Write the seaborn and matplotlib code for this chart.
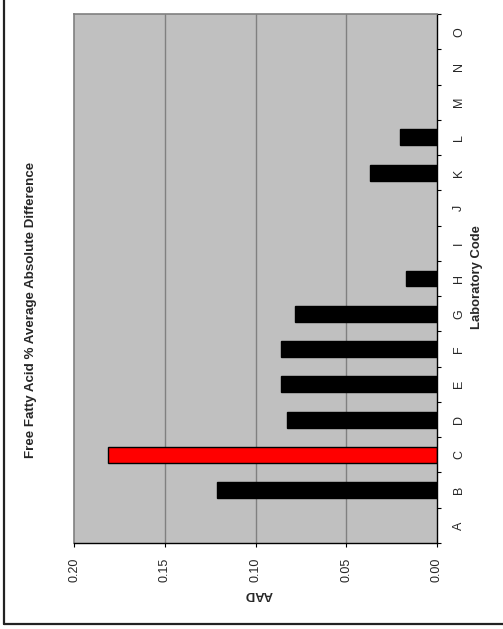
import numpy as np
import pandas as pd
import matplotlib
matplotlib.use("Agg")
import matplotlib.pyplot as plt
from matplotlib.lines import Line2D
import seaborn as sns

categories = ["A", "B", "C", "D", "E", "F", "G", "H", "I", "J", "K", "L", "M", "N", "O"]
aad = [np.nan, 0.121, 0.181, 0.0826, 0.0862, 0.0859, 0.0782, 0.0171,
       np.nan, np.nan, 0.0367, 0.0202, np.nan, np.nan, np.nan]
highlight = "C"
value_ticks = [0.00, 0.05, 0.10, 0.15, 0.20]
title = "Free Fatty Acid % Average Absolute Difference"
cat_label = "Laboratory Code"
val_label = "AAD"

sns.set_theme(style="white")
plt.rcParams["font.family"] = ["Liberation Sans", "DejaVu Sans"]

W, H = 503, 629
fig = plt.figure(figsize=(W / 100, H / 100), dpi=100)
ax = fig.add_axes([74 / W, 1 - 543 / H, (437 - 74) / W, (543 - 14) / H])
ax.set_facecolor("#C0C0C0")

df = pd.DataFrame({"code": categories, "aad": aad})
palette = {c: ("#FF0000" if c == highlight else "#000000") for c in categories}
sns.barplot(data=df, x="aad", y="code", hue="code", order=categories,
            palette=palette, legend=False, orient="h", width=0.45,
            edgecolor="black", linewidth=1.0, saturation=1, ax=ax)

ax.set_ylim(-0.5, len(categories) - 0.5)
ax.set_xlim(0.20, 0.0)

# gridlines
for v in value_ticks[1:-1]:
    ax.axvline(v, color="#808080", lw=1.0, zorder=0)

ax.set_xticks(value_ticks)
ax.set_xticklabels([f"{v:.2f}" for v in value_ticks], rotation=90, fontsize=9)
ax.tick_params(axis="x", direction="out", length=3, width=0.8, color="black",
               bottom=True, pad=7.5)

ax.yaxis.tick_right()
ax.set_yticks(range(len(categories)))
ax.set_yticklabels(categories, rotation=90, va="center", fontsize=9)
ax.set_yticks(np.arange(-0.5, len(categories), 1.0), minor=True)
ax.tick_params(axis="y", which="major", length=0, pad=11.5)
ax.tick_params(axis="y", which="minor", direction="out", length=3, width=0.8,
               color="black", right=True, left=False)
ax.set_xlabel("")
ax.set_ylabel("")

for side in ["left", "top"]:
    ax.spines[side].set_color("#808080")
    ax.spines[side].set_linewidth(1.2)
for side in ["right", "bottom"]:
    ax.spines[side].set_color("black")
    ax.spines[side].set_linewidth(1.0)

fig.text(31 / W, 1 - 310 / H, title, rotation=90, ha="center", va="center",
         fontsize=9.6, fontweight="bold")
fig.text(477 / W, 1 - 277 / H, cat_label, rotation=90, ha="center", va="center",
         fontsize=9.4, fontweight="bold")
fig.text(259 / W, 1 - 594 / H, val_label, rotation=180, ha="center", va="center",
         fontsize=9.4, fontweight="bold")

# outer chart border (left and bottom visible)
fig.add_artist(Line2D([3.5 / W, 3.5 / W], [1 - 624 / H, 1.0],
                      transform=fig.transFigure, color="#222222", lw=1.6))
fig.add_artist(Line2D([3.5 / W, 1.0], [1 - 624 / H, 1 - 624 / H],
                      transform=fig.transFigure, color="#222222", lw=1.6))

fig.savefig("out.png", dpi=100)
